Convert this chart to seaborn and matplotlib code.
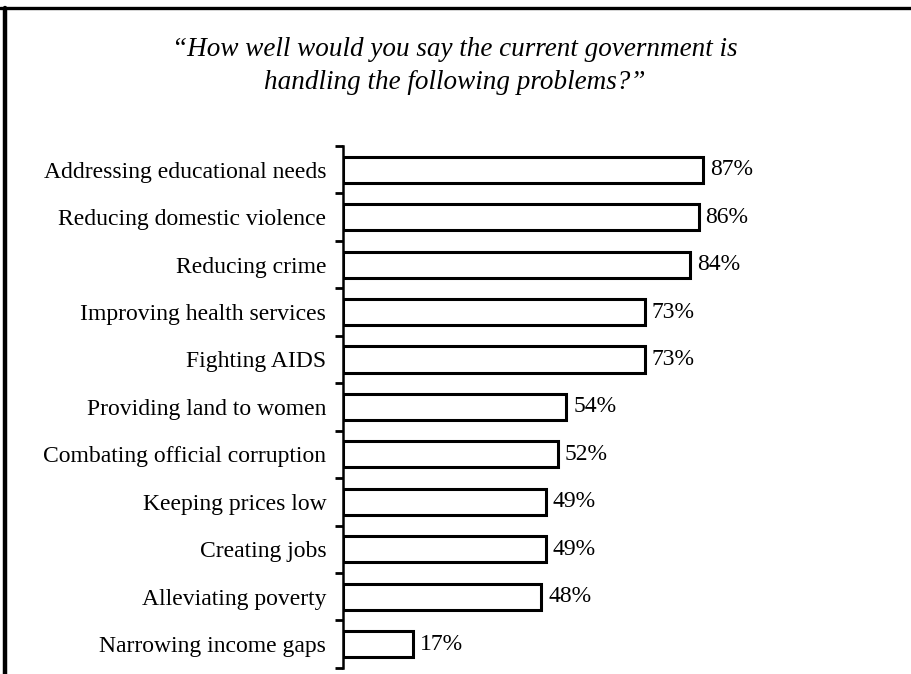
import matplotlib
matplotlib.use("Agg")
import matplotlib.pyplot as plt
import seaborn as sns
import pandas as pd
from matplotlib.lines import Line2D

# Survey items and share saying government handles them well (%)
problems = [
    "Addressing educational needs",
    "Reducing domestic violence",
    "Reducing crime",
    "Improving health services",
    "Fighting AIDS",
    "Providing land to women",
    "Combating official corruption",
    "Keeping prices low",
    "Creating jobs",
    "Alleviating poverty",
    "Narrowing income gaps",
]
percent = [87, 86, 84, 73, 73, 54, 52, 49, 49, 48, 17]

df = pd.DataFrame({"Problem": problems, "Percent": percent})

sns.set_style("white")
plt.rcParams["font.family"] = ["Liberation Serif", "DejaVu Serif"]
plt.rcParams["text.color"] = "black"
plt.rcParams["ytick.color"] = "black"
plt.rcParams["ytick.labelcolor"] = "black"

fig = plt.figure(figsize=(9.12, 6.74), dpi=100)
ax = fig.add_axes([0.376, 0.009, 0.61, 0.7745])

sns.barplot(data=df, x="Percent", y="Problem", order=problems,
            color="white", edgecolor="black", linewidth=2.2, width=0.55,
            saturation=1, ax=ax)

ax.bar_label(ax.containers[0], labels=[f"{v}%" for v in percent],
             padding=5, fontsize=17, color="black")

ax.set_xlim(0, 134.5)
ax.set_ylim(len(problems) - 0.5, -0.5)
ax.set_xlabel("")
ax.set_ylabel("")
ax.set_xticks([])

# ticks sit between the categories, not on them
ax.set_yticks(range(len(problems)))
ax.set_yticklabels(problems, fontsize=17, color="black")
ax.set_yticks([i - 0.5 for i in range(len(problems) + 1)], minor=True)
ax.tick_params(axis="y", which="major", left=False, length=0, pad=12)
ax.tick_params(axis="y", which="minor", left=True, length=6, width=2,
               color="black")

for side in ["top", "right", "bottom"]:
    ax.spines[side].set_visible(False)
ax.spines["left"].set_linewidth(1.8)
ax.spines["left"].set_color("black")

fig.text(0.499, 0.902,
         "\u201cHow well would you say the current government is\nhandling the following problems?\u201d",
         ha="center", va="center", fontsize=19.5, style="italic",
         linespacing=1.45, color="black")

# box frame (top and left edges)
fig.add_artist(Line2D([0, 1], [0.988, 0.988], color="black", lw=2.4,
                      transform=fig.transFigure))
fig.add_artist(Line2D([0.0055, 0.0055], [0, 0.988], color="black", lw=3.2,
                      transform=fig.transFigure))

fig.savefig("out.png", dpi=100)
